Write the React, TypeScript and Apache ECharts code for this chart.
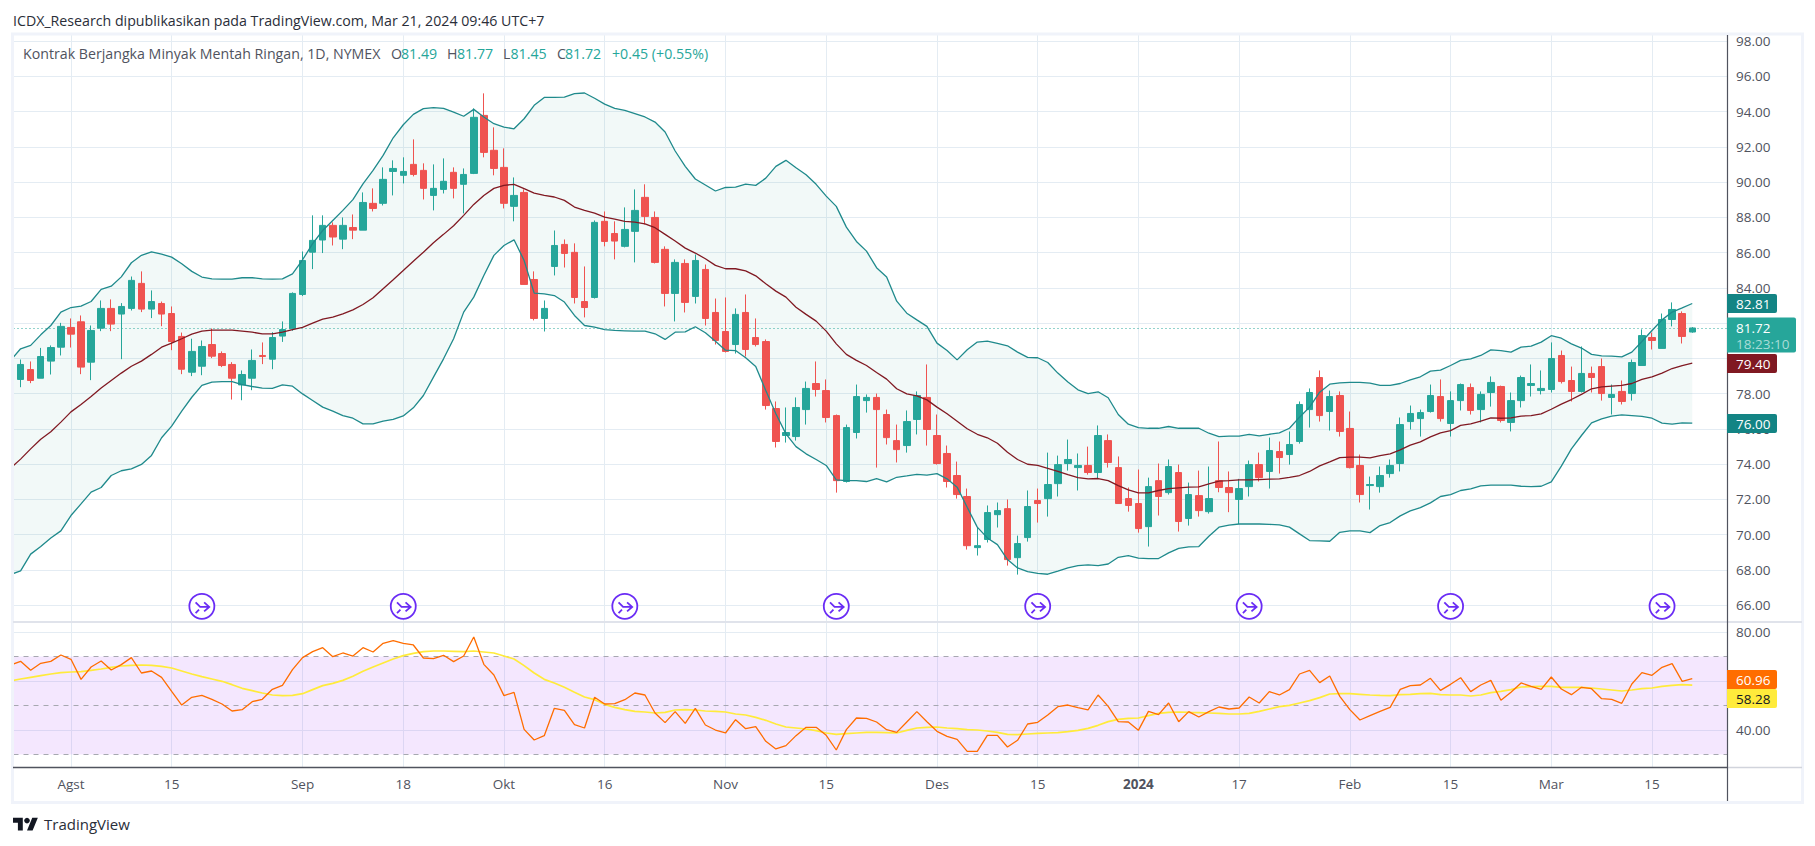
import React, { useEffect, useRef } from "react";
import * as echarts from "echarts";

// ---------- candles (one per trading day, index 0..166) ----------
const opens = [
78.80,79.36,78.87,79.84,80.63,81.75,82.07,79.78,81.71,82.83,
82.51,82.83,84.25,82.79,83.11,82.54,81.24,79.21,79.55,80.78,
80.27,79.65,78.49,78.87,80.16,79.95,81.26,81.67,83.62,86.02,
86.71,87.54,86.76,87.42,87.27,88.79,88.79,90.60,90.38,91.00,
90.66,89.24,89.58,90.55,89.87,90.49,93.78,91.80,90.83,88.62,
89.41,84.47,82.26,85.21,86.46,86.01,83.22,83.45,87.77,87.08,
86.35,87.20,89.13,87.99,86.18,83.68,85.38,83.51,85.04,82.60,
81.52,80.78,82.60,81.18,80.95,77.15,75.62,75.56,77.09,78.57,
78.17,76.75,73.01,75.79,77.60,77.78,76.81,75.33,75.05,76.53,
77.78,75.62,74.60,73.35,72.16,69.26,69.72,71.13,71.47,68.69,
69.83,71.93,72.04,72.89,74.03,73.80,73.92,73.52,75.33,73.80,
72.04,71.76,70.45,73.06,72.38,73.52,70.91,72.21,71.30,73.06,
72.67,71.99,72.72,73.97,73.58,74.71,74.54,75.28,77.09,78.91,
76.98,77.89,76.02,73.92,72.78,72.72,73.46,74.03,76.41,76.58,
76.98,77.83,76.30,77.60,78.34,77.09,78.06,78.40,76.36,77.60,
78.46,78.17,78.23,80.16,78.74,78.12,79.14,79.53,77.78,78.12,
78.00,79.59,81.18,80.56,82.20,82.54,81.49];
const closes = [
79.65,78.74,80.10,80.61,81.81,81.37,79.50,81.58,82.83,81.94,
82.94,84.42,82.79,83.22,82.51,80.95,79.38,80.39,80.67,80.12,
79.59,78.87,79.08,79.88,80.10,81.18,81.63,83.68,85.55,86.69,
87.54,86.88,87.54,87.27,88.84,88.50,90.15,90.77,90.60,90.43,
89.64,89.64,90.04,89.64,90.43,93.67,91.68,90.77,88.79,89.24,
84.19,82.26,82.83,86.40,85.95,83.45,82.88,87.71,86.63,86.65,
87.31,88.39,88.05,85.44,83.68,85.44,83.17,85.55,82.26,81.01,
80.39,82.49,80.50,80.78,77.32,75.28,75.79,77.21,78.29,78.23,
76.64,73.06,76.07,77.83,77.78,77.09,75.50,74.82,76.41,77.89,
75.96,74.03,73.01,72.27,69.37,69.37,71.25,71.36,68.58,69.49,
71.59,71.76,72.84,73.97,74.26,73.92,73.52,75.62,74.09,71.76,
71.65,70.34,72.72,72.16,73.86,70.74,72.27,71.36,72.04,72.67,
72.38,72.61,73.97,73.23,74.77,74.37,75.11,77.38,78.06,76.75,
77.83,75.85,73.80,72.27,72.84,73.35,73.92,76.24,76.87,76.92,
77.89,76.58,77.60,78.51,77.04,77.95,78.63,76.47,77.60,78.91,
78.57,78.29,79.99,78.68,78.12,79.14,78.91,78.00,77.95,77.55,
79.76,81.29,81.01,82.20,82.77,81.24,81.72];
const lows = [
78.36,78.59,78.87,79.08,80.16,80.61,79.10,78.76,81.54,81.54,
79.95,82.71,82.62,82.28,81.82,80.46,79.10,78.99,79.04,80.01,
79.50,77.66,77.62,78.19,79.67,79.38,80.93,81.56,83.53,85.06,
85.97,86.40,86.19,86.76,87.27,88.33,88.67,89.24,89.92,90.32,
89.01,88.39,89.35,89.07,88.22,90.45,91.40,90.38,88.50,87.77,
84.19,82.15,81.52,84.70,85.15,83.11,82.32,83.39,86.35,85.61,
86.29,85.44,87.59,85.38,82.94,82.09,82.60,83.11,81.86,80.78,
80.33,80.27,80.10,80.67,77.09,74.94,75.22,75.33,76.24,77.83,
76.36,72.38,72.95,75.45,76.92,73.80,75.11,74.09,74.65,75.68,
75.05,73.97,72.67,72.04,69.15,68.81,69.55,70.40,68.24,67.73,
69.60,70.68,71.02,72.16,73.63,72.50,73.40,73.18,73.80,71.76,
71.30,70.11,69.32,71.08,72.27,70.17,70.51,71.02,71.19,72.40,
71.27,70.60,72.16,73.01,72.61,73.46,73.97,75.16,76.07,76.41,
75.90,75.56,73.75,71.82,71.42,72.38,73.23,73.58,75.96,75.56,
76.92,76.41,75.56,77.04,76.81,76.36,77.26,76.36,75.85,77.21,
77.83,77.95,78.06,78.57,77.55,78.06,78.06,77.60,76.81,77.38,
77.60,79.59,80.50,80.56,81.81,80.84,81.45];
const highs = [
79.93,79.82,80.59,80.73,82.01,82.26,82.43,81.86,83.28,83.34,
83.13,84.64,84.93,83.85,83.22,82.94,81.46,81.11,81.01,81.69,
80.39,79.78,79.31,80.50,80.90,81.48,82.09,83.74,86.06,88.11,
88.11,87.71,87.99,88.16,89.41,89.64,90.83,91.23,91.40,92.42,
91.06,91.00,91.34,90.83,90.77,94.18,95.03,93.10,91.91,90.26,
89.58,84.93,83.28,87.25,86.74,86.52,85.21,87.82,88.33,87.77,
88.56,89.58,89.87,88.33,86.35,85.61,85.61,85.89,85.32,83.39,
83.45,82.83,83.62,82.26,81.07,77.55,77.21,77.78,78.68,79.82,
78.80,76.81,76.24,78.51,77.95,78.00,77.09,76.24,77.04,78.12,
79.65,76.81,75.05,74.14,72.61,70.40,71.65,71.82,71.99,69.94,
72.50,72.61,74.65,74.48,75.39,74.60,74.99,76.19,75.68,74.43,
72.67,73.69,73.23,74.03,74.26,73.97,72.95,73.63,73.86,75.28,
73.58,73.16,74.20,74.65,75.50,75.28,75.85,77.55,78.29,79.31,
78.17,78.12,76.98,74.54,73.29,73.86,74.26,76.64,77.32,77.09,
78.51,78.80,78.12,78.57,78.57,78.12,78.97,78.45,78.06,79.02,
79.65,79.31,80.90,80.44,79.53,80.67,79.53,79.99,78.51,78.74,
79.93,81.64,81.46,82.54,83.17,82.66,81.77];

// ---------- indicators: first value belongs to index -1 (just off the left edge) ----------
const bbUpper = [
79.88,80.54,80.73,81.33,81.86,82.62,82.88,82.96,83.22,83.91,84.09,
84.62,85.42,85.84,86.04,85.91,85.74,85.36,84.93,84.61,84.51,
84.49,84.49,84.57,84.57,84.51,84.49,84.51,84.79,85.59,86.50,
87.25,87.82,88.39,89.00,89.90,90.66,91.51,92.51,93.25,93.84,
94.16,94.22,94.18,93.97,93.73,94.12,93.69,93.31,93.12,93.02,
93.59,94.35,94.80,94.80,94.82,95.01,95.05,94.75,94.42,94.18,
94.07,93.88,93.69,93.40,92.84,91.76,90.89,90.17,89.83,89.49,
89.69,89.71,89.88,89.81,90.22,90.89,91.23,90.81,90.41,89.87,
89.20,88.62,87.44,86.63,86.08,85.14,84.61,83.24,82.56,82.18,
81.81,80.86,80.44,79.91,80.48,80.92,80.97,80.84,80.71,80.35,
80.05,80.03,79.76,79.16,78.65,78.21,78.00,78.10,77.76,76.81,
76.26,76.07,76.03,76.03,76.13,76.03,76.03,76.03,75.75,75.56,
75.58,75.58,75.69,75.60,75.69,75.77,76.03,76.66,77.23,78.08,
78.53,78.61,78.63,78.63,78.59,78.46,78.46,78.57,78.78,78.95,
79.27,79.33,79.59,79.88,79.97,80.16,80.48,80.44,80.35,80.63,
80.69,80.92,81.28,81.14,80.82,80.58,80.22,80.14,80.12,80.08,
80.35,80.95,81.58,82.18,82.62,82.86,83.11];
const bbBasis = [
73.77,74.28,74.86,75.41,75.83,76.38,76.96,77.38,77.83,78.31,78.74,
79.16,79.55,79.84,80.22,80.63,80.86,81.11,81.37,81.54,81.60,
81.60,81.60,81.54,81.48,81.39,81.39,81.48,81.62,81.75,81.99,
82.22,82.34,82.52,82.75,83.05,83.43,83.94,84.45,84.98,85.51,
86.02,86.55,87.03,87.52,88.11,88.73,89.24,89.64,89.81,89.87,
89.62,89.37,89.24,89.15,88.96,88.58,88.39,88.24,88.01,87.90,
87.77,87.73,87.63,87.41,87.03,86.65,86.25,85.97,85.65,85.27,
85.08,85.08,84.96,84.68,84.23,83.81,83.47,82.90,82.49,82.11,
81.54,80.82,80.22,79.88,79.59,79.19,78.82,78.27,77.98,77.87,
77.64,77.23,76.85,76.43,76.00,75.69,75.49,75.18,74.67,74.26,
73.99,73.92,73.76,73.59,73.40,73.23,73.16,73.18,73.06,72.78,
72.53,72.36,72.36,72.50,72.61,72.65,72.69,72.70,72.88,73.03,
73.06,73.10,73.10,73.12,73.14,73.16,73.25,73.35,73.58,73.90,
74.12,74.37,74.39,74.39,74.35,74.48,74.58,74.80,75.07,75.26,
75.54,75.77,75.90,76.19,76.28,76.43,76.62,76.60,76.62,76.72,
76.75,76.85,77.11,77.40,77.66,77.95,78.27,78.38,78.42,78.46,
78.57,78.80,78.95,79.16,79.42,79.59,79.72];
const bbLower = [
67.73,67.94,68.89,69.32,69.81,70.21,71.08,71.74,72.41,72.67,73.35,
73.62,73.73,73.98,74.49,75.49,76.15,77.00,77.79,78.46,78.65,
78.68,78.68,78.51,78.40,78.31,78.29,78.49,78.42,77.98,77.61,
77.23,77.00,76.75,76.60,76.28,76.28,76.43,76.53,76.73,77.19,
77.89,78.93,79.97,81.11,82.62,83.47,84.70,85.84,86.40,86.72,
85.55,83.70,83.66,83.56,83.19,82.43,81.86,81.77,81.63,81.58,
81.56,81.54,81.54,81.39,81.07,81.48,81.50,81.79,81.45,80.97,
80.46,80.44,80.03,79.53,78.17,76.85,75.71,74.99,74.58,74.26,
73.92,73.10,73.06,73.06,73.01,73.18,72.99,73.25,73.33,73.42,
73.37,73.46,73.16,72.69,71.55,70.42,69.81,69.43,68.58,68.11,
67.90,67.80,67.75,67.92,68.11,68.24,68.28,68.24,68.33,68.71,
68.81,68.66,68.64,68.64,68.96,69.22,69.30,69.32,69.90,70.42,
70.53,70.60,70.60,70.60,70.58,70.55,70.42,70.04,69.66,69.64,
69.62,70.13,70.21,70.21,70.11,70.51,70.68,71.06,71.34,71.53,
71.80,72.16,72.27,72.50,72.59,72.76,72.80,72.80,72.80,72.74,
72.72,72.74,72.99,73.88,74.86,75.62,76.34,76.56,76.72,76.79,
76.75,76.70,76.60,76.32,76.26,76.34,76.32];
const rsi = [
66.53,68.03,64.36,67.21,68.03,70.61,68.85,60.68,65.72,68.16,64.50,
66.67,69.53,63.27,64.08,61.50,55.79,50.20,53.34,54.15,52.52,
50.62,47.76,48.30,51.57,52.52,56.60,58.23,64.63,69.53,71.97,
73.61,69.93,71.43,70.20,73.61,71.84,75.38,76.46,75.38,74.70,
69.39,69.12,70.48,67.89,70.20,77.96,66.80,62.45,54.02,55.38,
40.27,35.92,37.69,48.85,48.03,42.18,40.82,53.34,50.62,50.75,
52.38,55.10,54.29,46.94,43.00,47.49,42.72,48.85,42.04,40.00,
38.78,44.22,40.55,41.36,35.38,32.25,33.61,37.69,41.09,41.09,
37.83,31.84,40.14,44.90,44.76,43.27,40.14,39.05,43.27,47.49,
43.40,39.46,37.42,36.19,31.30,31.30,37.83,37.83,33.07,35.80,
42.45,43.13,46.13,49.53,50.20,49.12,48.17,54.29,49.66,43.40,
43.27,39.87,47.62,46.26,51.02,43.40,47.49,45.31,47.49,49.39,
48.57,48.98,53.47,51.02,55.65,54.29,56.46,62.86,64.36,59.32,
62.04,53.74,48.30,44.08,45.85,47.62,49.25,56.60,58.10,58.37,
61.09,56.19,58.64,61.36,55.65,58.37,60.27,52.11,55.38,59.19,
57.83,56.60,61.63,56.74,54.42,57.42,56.87,52.79,52.52,50.89,
58.78,63.40,62.32,65.58,67.08,59.87,60.96];
const rsiMa = [
60.00,60.82,61.50,62.18,62.86,63.40,63.68,63.81,64.36,64.90,65.58,
66.12,66.40,66.53,66.40,65.99,65.31,64.08,62.86,61.77,60.82,
59.87,58.50,57.01,56.06,55.10,54.29,54.02,54.15,54.83,56.47,
58.10,59.05,60.27,61.91,63.95,65.72,67.35,68.98,70.34,71.30,
71.97,72.25,72.25,72.11,71.97,72.25,71.84,71.43,70.20,68.98,
66.26,63.27,60.68,59.19,57.42,55.38,53.47,52.38,50.48,49.25,
48.30,47.62,47.35,46.94,47.21,48.17,48.30,48.17,47.76,47.62,
47.35,46.53,46.13,45.17,43.95,42.45,41.23,40.82,40.41,39.73,
38.78,38.23,38.51,38.78,39.05,39.05,38.92,38.78,39.87,40.82,
41.09,41.23,40.82,40.55,40.14,40.00,39.60,39.05,38.23,38.10,
38.37,38.64,38.78,38.92,39.32,39.87,40.68,41.91,43.40,44.35,
44.76,44.90,45.85,46.80,47.21,47.35,47.21,47.08,46.94,46.80,
46.53,46.53,46.80,47.62,48.57,49.53,50.07,51.02,51.97,53.20,
54.70,54.83,54.83,54.56,54.29,54.15,54.02,54.42,54.56,54.83,
54.97,54.42,54.29,54.29,53.88,54.29,55.24,55.79,56.46,57.55,
57.69,57.83,57.83,57.42,57.42,57.42,57.15,56.74,56.33,55.92,
56.33,56.87,57.15,57.83,58.23,58.50,58.28];

// ---------- axes ----------
const timeTickIndex = [5, 15, 28, 38, 48, 58, 70, 80, 91, 101, 111, 121, 132, 142, 152, 162];
const timeTickLabels = ["Agst", "15", "Sep", "18", "Okt", "16", "Nov", "15", "Des", "15", "2024", "17", "Feb", "15", "Mar", "15"];
const priceTicks = [66, 68, 70, 72, 74, 76, 78, 80, 82, 84, 86, 88, 90, 92, 94, 96, 98];
const rsiGridTicks = [40, 60, 80];
const rsiLabelTicks = [40, 80];
const rsiBands = [70, 50, 30];
const eventIndex = [18, 38, 60, 81, 101, 122, 142, 163];
const eventLevel = 65.93;
const lastPrice = 81.72;

// ---------- texts ----------
const headerText = "ICDX_Research dipublikasikan pada TradingView.com, Mar 21, 2024 09:46 UTC+7";
const legendName = "Kontrak Berjangka Minyak Mentah Ringan, 1D, NYMEX";
const legendOhlc = [["O", "81.49"], ["H", "81.77"], ["L", "81.45"], ["C", "81.72"]];
const legendChange = "+0.45 (+0.55%)";
const countdown = "18:23:10";

const FONT = "'Open Sans'";
const GREY = "#50535e";
const GRID = "#e4ecf3";
const UP = "#26a69a";
const DOWN = "#ef5350";
const BB = "#1f8a8c";
const BASIS = "#801922";

echarts.graphic.registerShape(
  "tvLogoBars",
  echarts.graphic.extendPath("M14 22H7V11H0V4h14v18zM28 22h-8l7.5-18h8L28 22z", {})
);

const eventSymbol =
  "path://M12 1a11 11 0 1 0 0 22a11 11 0 1 0 0-22zM6.5 8.5L10.5 12.5H18M14 8.5L18.5 12.5L14 16.5M6.5 18L9.5 15";

function priceBadge(text: string, y0: number, h: number, bg: string, fg: string, w = 50) {
  return [
    { type: "rect", z: 110, shape: { x: 1727, y: y0, width: w, height: h, r: [0, 2, 2, 0] }, style: { fill: bg } },
    {
      type: "text", z: 111, x: 1736, y: y0 + h / 2,
      style: { text, fill: fg, font: `500 13.5px ${FONT}`, textVerticalAlign: "middle" },
    },
  ];
}

export default function App() {
  const ref = useRef<HTMLDivElement | null>(null);

  useEffect(() => {
    if (!ref.current) return;
    const chart = echarts.init(ref.current, undefined, { renderer: "svg" });

    const idx = (arr: number[]) => arr.map((v, k) => [k - 1, v]);
    const candleData = opens.map((o, i) => [i, o, closes[i], lows[i], highs[i]]);
    const bandData = bbUpper.map((u, k) => [k - 1, u, bbLower[k]]);

    const xBase = { type: "value", min: -0.705, max: 169.45, scale: true };
    const legendX = [391, 447, 503, 557];
    const legendValX = [401, 457, 510.5, 565];

    const lineSeries = (name: string, data: number[][], color: string, width: number, xy = 0, z = 5) => ({
      name, type: "line", data, xAxisIndex: xy, yAxisIndex: xy, showSymbol: false, symbol: "none",
      lineStyle: { color, width }, z, silent: true,
    });

    chart.setOption({
      animation: false,
      backgroundColor: "#ffffff",
      grid: [
        { left: 13.5, right: 88, top: 34, height: 588, containLabel: false },
        { left: 13.5, right: 88, top: 622, height: 145, containLabel: false },
      ],
      xAxis: [
        {
          ...xBase, gridIndex: 0,
          axisLine: { show: false },
          axisTick: { show: false, customValues: timeTickIndex },
          axisLabel: { show: false, customValues: timeTickIndex },
          splitLine: { show: true, lineStyle: { color: GRID, width: 1 } },
        },
        {
          ...xBase, gridIndex: 1,
          axisLine: { show: false },
          axisTick: { show: false, customValues: timeTickIndex },
          axisLabel: {
            show: true, customValues: timeTickIndex, margin: 10,
            color: GREY, fontFamily: FONT, fontSize: 13.5,
            formatter: (v: number) => {
              const t = timeTickLabels[timeTickIndex.indexOf(Math.round(v))] ?? "";
              return t === "2024" ? `{b|${t}}` : t;
            },
            rich: { b: { fontWeight: "bold", color: GREY, fontFamily: FONT, fontSize: 13.5 } },
          },
          splitLine: { show: true, lineStyle: { color: GRID, width: 1 } },
        },
      ],
      yAxis: [
        {
          type: "value", gridIndex: 0, position: "right", min: 65.04, max: 98.397, scale: true,
          axisLine: { show: false },
          axisTick: { show: false, customValues: priceTicks },
          axisLabel: {
            customValues: priceTicks, margin: 9, color: GREY, fontFamily: FONT, fontSize: 13.5,
            padding: [0, 0, 2, 0],
            formatter: (v: number) => v.toFixed(2),
          },
          splitLine: { show: true, lineStyle: { color: GRID, width: 1 } },
        },
        {
          type: "value", gridIndex: 1, position: "right", min: 24.9, max: 84.08, scale: true,
          axisLine: { show: false },
          axisTick: { show: false, customValues: rsiGridTicks },
          axisLabel: {
            customValues: rsiLabelTicks, margin: 9, color: GREY, fontFamily: FONT, fontSize: 13.5,
            formatter: (v: number) => v.toFixed(2),
          },
          splitLine: { show: true, lineStyle: { color: GRID, width: 1 } },
        },
      ],
      series: [
        {
          name: "bbFill", type: "custom", xAxisIndex: 0, yAxisIndex: 0, z: 1, silent: true, clip: true,
          data: bandData, encode: { x: 0, y: [1, 2] },
          renderItem: (params: any, api: any) => {
            if (params.dataIndex !== 0) return null;
            const top = bandData.map((d) => api.coord([d[0], d[1]]));
            const bottom = bandData.map((d) => api.coord([d[0], d[2]])).reverse();
            return {
              type: "polygon",
              shape: { points: top.concat(bottom) },
              style: { fill: "rgba(0,137,123,0.05)" },
            };
          },
        },
        {
          name: "price", type: "candlestick", data: candleData, barWidth: 7, z: 3, silent: true,
          itemStyle: { color: UP, color0: DOWN, borderColor: UP, borderColor0: DOWN, borderWidth: 1 },
          markLine: {
            silent: true, symbol: "none", animation: false, label: { show: false }, z: 2,
            lineStyle: { color: UP, type: [1, 3], width: 1, opacity: 1 },
            data: [{ yAxis: lastPrice }],
          },
        },
        lineSeries("bbUpper", idx(bbUpper), BB, 1.3),
        lineSeries("bbLower", idx(bbLower), BB, 1.3),
        lineSeries("bbBasis", idx(bbBasis), BASIS, 1.3),
        {
          name: "events", type: "scatter", xAxisIndex: 0, yAxisIndex: 0, z: 6, silent: true,
          data: eventIndex.map((i) => [i, eventLevel]),
          symbol: eventSymbol, symbolSize: 25, symbolKeepAspect: true,
          itemStyle: { color: "#ffffff", borderColor: "#6a2cf5", borderWidth: 1.8, opacity: 1 },
        },
        {
          ...lineSeries("rsiMa", idx(rsiMa), "#ffeb3b", 1.7, 1, 5),
          markArea: {
            silent: true, z: 1, label: { show: false },
            itemStyle: { color: "rgba(165,60,245,0.12)" },
            data: [[{ yAxis: rsiBands[0] }, { yAxis: rsiBands[2] }]],
          },
          markLine: {
            silent: true, symbol: "none", animation: false, label: { show: false }, z: 2,
            lineStyle: { color: "#a7a8b0", type: [5, 5], width: 1, opacity: 1 },
            data: rsiBands.map((v) => ({ yAxis: v })),
          },
        },
        lineSeries("rsi", idx(rsi), "#ff6d00", 1.3, 1, 6),
      ],
      graphic: [
        // frame and pane separators
        { type: "rect", z: 90, shape: { x: 12.5, y: 34, width: 1790, height: 768.5 }, style: { fill: "none", stroke: "#f0f3fa", lineWidth: 3 } },
        { type: "line", z: 91, shape: { x1: 13, y1: 622, x2: 1802, y2: 622 }, style: { stroke: "#e0e3eb", lineWidth: 2 } },
        { type: "line", z: 91, shape: { x1: 1727, y1: 767.5, x2: 1802, y2: 767.5 }, style: { stroke: "#d1d4dc", lineWidth: 1.5 } },
        { type: "line", z: 92, shape: { x1: 13, y1: 767.5, x2: 1727, y2: 767.5 }, style: { stroke: GREY, lineWidth: 1.5 } },
        { type: "line", z: 92, shape: { x1: 1727.5, y1: 35, x2: 1727.5, y2: 801 }, style: { stroke: GREY, lineWidth: 1.2 } },

        // header and legend
        { type: "text", z: 100, x: 13, y: 20, style: { text: headerText, fill: "#2a2e39", font: `14.2px ${FONT}`, textVerticalAlign: "middle" } },
        { type: "text", z: 100, x: 23, y: 53.5, style: { text: legendName, fill: GREY, font: `14.2px ${FONT}`, textVerticalAlign: "middle" } },
        ...legendOhlc.flatMap(([k, v], n) => [
          { type: "text", z: 100, x: legendX[n], y: 53.5, style: { text: k, fill: GREY, font: `14.2px ${FONT}`, textVerticalAlign: "middle" } },
          { type: "text", z: 100, x: legendValX[n], y: 53.5, style: { text: v, fill: UP, font: `14.2px ${FONT}`, textVerticalAlign: "middle" } },
        ]),
        { type: "text", z: 100, x: 612, y: 53.5, style: { text: legendChange, fill: UP, font: `14.2px ${FONT}`, textVerticalAlign: "middle" } },

        // price scale badges
        ...priceBadge("82.81", 294, 19, "#138484", "#ffffff"),
        ...priceBadge("79.40", 354, 19, BASIS, "#ffffff"),
        ...priceBadge("76.00", 414, 19, "#138484", "#ffffff"),
        { type: "rect", z: 110, shape: { x: 1727, y: 317.5, width: 69, height: 35, r: [0, 2, 2, 0] }, style: { fill: UP } },
        { type: "text", z: 111, x: 1736, y: 328, style: { text: String(lastPrice.toFixed(2)), fill: "#ffffff", font: `500 13.5px ${FONT}`, textVerticalAlign: "middle" } },
        { type: "text", z: 111, x: 1736, y: 344, style: { text: countdown, fill: "#a9dcd7", font: `500 13.5px ${FONT}`, textVerticalAlign: "middle" } },
        ...priceBadge("60.96", 670, 19, "#ff6d00", "#ffffff"),
        ...priceBadge("58.28", 689, 19, "#ffeb3b", "#131722"),

        // TradingView mark
        { type: "tvLogoBars", z: 100, x: 13, y: 815, scaleX: 0.7, scaleY: 0.7, style: { fill: "#131722" } },
        { type: "circle", z: 100, shape: { cx: 27, cy: 820.6, r: 2.8 }, style: { fill: "#131722" } },
        { type: "text", z: 100, x: 44, y: 824, style: { text: "TradingView", fill: "#2a2e39", font: `15px ${FONT}`, textVerticalAlign: "middle" } },
      ],
    });

    return () => chart.dispose();
  }, []);

  return <div ref={ref} style={{ position: "absolute", left: 0, top: 0, width: 1815, height: 846 }} />;
}
